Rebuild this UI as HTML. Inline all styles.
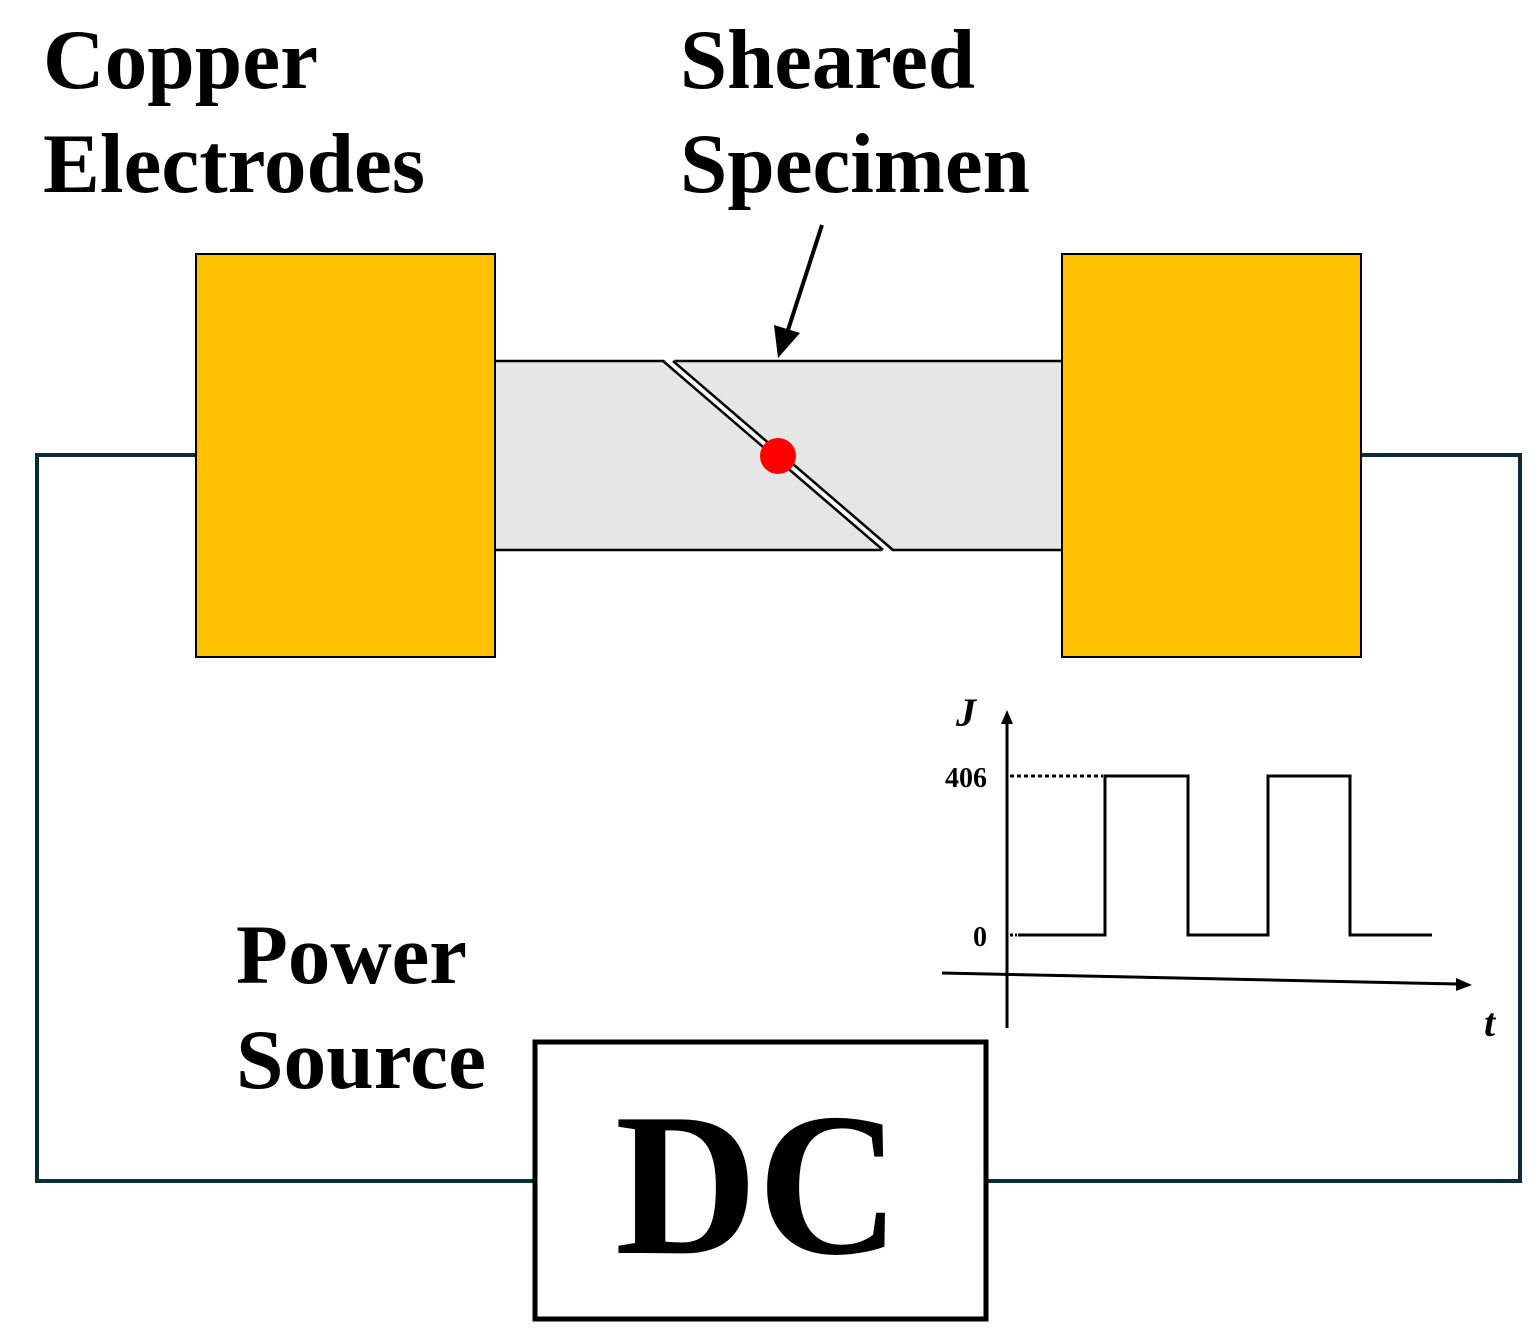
<!DOCTYPE html>
<html><head><meta charset="utf-8"><style>html,body{margin:0;padding:0;background:#fff}svg{display:block}</style></head>
<body>
<svg width="1539" height="1340" viewBox="0 0 1539 1340" xmlns="http://www.w3.org/2000/svg">
<rect width="1539" height="1340" fill="#fff"/>
<rect x="37" y="455" width="1483" height="726" fill="none" stroke="#0d2a36" stroke-width="4"/>
<rect x="495" y="361" width="567" height="189" fill="#e6e6e6"/>
<line x1="495" y1="361" x2="1062" y2="361" stroke="#000" stroke-width="2.5"/>
<line x1="495" y1="550" x2="1062" y2="550" stroke="#000" stroke-width="2.5"/>
<polygon points="663,359 673,359 893,552 883,552" fill="#fff"/>
<line x1="663" y1="361" x2="883" y2="550" stroke="#000" stroke-width="2.5"/>
<line x1="673" y1="361" x2="893" y2="550" stroke="#000" stroke-width="2.5"/>
<circle cx="778" cy="456" r="18" fill="#ff0000"/>
<rect x="196" y="254" width="299" height="403" fill="#FFC000" stroke="#000" stroke-width="2"/>
<rect x="1062" y="254" width="299" height="403" fill="#FFC000" stroke="#000" stroke-width="2"/>
<line x1="822" y1="225" x2="788" y2="330" stroke="#000" stroke-width="4"/>
<polygon points="778,358 774,325 800,333" fill="#000"/>
<rect x="535" y="1042" width="451" height="277" fill="#fff" stroke="#000" stroke-width="5"/>
<g font-family="Liberation Serif, serif" font-weight="bold" fill="#000">
<text x="43" y="88" font-size="85" textLength="275" lengthAdjust="spacingAndGlyphs">Copper</text>
<text x="43" y="192" font-size="85" textLength="382" lengthAdjust="spacingAndGlyphs">Electrodes</text>
<text x="680" y="88" font-size="85" textLength="295" lengthAdjust="spacingAndGlyphs">Sheared</text>
<text x="680" y="192" font-size="85" textLength="350" lengthAdjust="spacingAndGlyphs">Specimen</text>
<text x="236" y="983" font-size="85" textLength="231" lengthAdjust="spacingAndGlyphs">Power</text>
<text x="236" y="1088" font-size="85" textLength="250" lengthAdjust="spacingAndGlyphs">Source</text>
<text x="615" y="1253" font-size="204" textLength="285" lengthAdjust="spacingAndGlyphs">DC</text>
<text x="956" y="726" font-size="40" font-style="italic">J</text>
<text x="1484" y="1036" font-size="40" font-style="italic">t</text>
</g>
<g font-family="Liberation Serif, serif" font-size="28" fill="#000" font-weight="bold">
<text x="987" y="787" text-anchor="end">406</text>
<text x="987" y="946" text-anchor="end">0</text>
</g>
<line x1="1007" y1="1028" x2="1007" y2="722" stroke="#000" stroke-width="3"/>
<polygon points="1007,710 1001,724 1013,724" fill="#000"/>
<line x1="942" y1="973" x2="1458" y2="984" stroke="#000" stroke-width="3"/>
<polygon points="1472,985 1456,978 1456,991" fill="#000"/>
<line x1="1010" y1="776" x2="1103" y2="776" stroke="#000" stroke-width="3" stroke-dasharray="4,3"/>
<line x1="1010" y1="935" x2="1017" y2="935" stroke="#000" stroke-width="3" stroke-dasharray="3,2"/>
<polyline points="1018,935 1105,935 1105,776 1188,776 1188,935 1268,935 1268,776 1350,776 1350,935 1432,935" fill="none" stroke="#000" stroke-width="3"/>
</svg>
</body></html>
